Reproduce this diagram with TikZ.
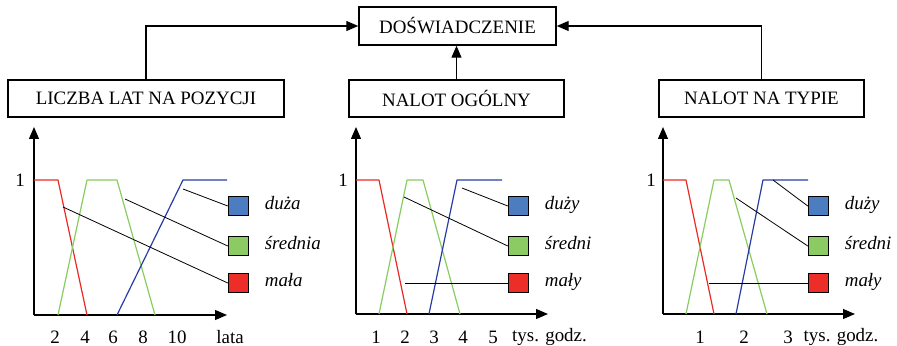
\documentclass[tikz,border=0pt]{standalone}
\usepackage{fontspec}
\setmainfont{Liberation Serif}
\usetikzlibrary{arrows.meta, positioning}

\definecolor{lineblue}{RGB}{40,60,165}
\definecolor{linered}{RGB}{235,40,35}
\definecolor{linegreen}{RGB}{135,205,95}
\definecolor{fillblue}{RGB}{75,125,192}
\definecolor{fillgreen}{RGB}{140,202,100}
\definecolor{fillred}{RGB}{236,45,40}

\tikzset{
  box/.style={draw, line width=1.1pt, inner sep=0pt, font=\fontsize{14.2}{16}\selectfont},
  link/.style={line width=0.9pt, -{Triangle[length=9pt, width=7.5pt]}},
  axis/.style={line width=0.9pt, -{Triangle[length=9pt, width=7.5pt]}},
  swatch/.style={draw, line width=1.1pt, minimum width=15pt, minimum height=14pt, inner sep=0pt},
  leader/.style={line width=0.6pt},
  ticklab/.style={inner sep=0pt, font=\fontsize{14.2}{16}\selectfont},
  setlab/.style={inner sep=0pt, text height=1.5ex, text depth=0.3ex, font=\fontsize{14.2}{16}\selectfont\itshape},
  mf/.style={line width=0.9pt, line join=round},
}

\begin{document}
\begin{tikzpicture}[x=0.75pt, y=-0.75pt]
\useasboundingbox (0,0) rectangle (897,346);

% Top level boxes
\node[box, minimum width=147.75pt, minimum height=28.5pt] (dosw) at (457.5,26) {DOŚWIADCZENIE};
\node[box, minimum width=207pt, minimum height=27.75pt] (lata) at (146,98.5) {LICZBA LAT NA POZYCJI};
\node[box, minimum width=161.25pt, minimum height=27.75pt] (ogolny) at (456.5,98.5) {NALOT OGÓLNY};
\node[box, minimum width=153.75pt, minimum height=27.75pt] (typ) at (761.5,98.5) {NALOT NA TYPIE};

\draw[link] (lata.north) |- (dosw.west);
\draw[link] (ogolny.north) -- (ogolny.north |- dosw.south);
\draw[link] (typ.north) |- (dosw.east);

% Chart 1: years on position
\coordinate (O1) at (34,315);
\coordinate (Y1) at (34,127);
\coordinate (X1) at (227,315);
\draw[axis] (O1) -- (Y1);
\draw[axis] (O1) -- (X1);
\node[ticklab] (one1) at (20,180) {1};
\draw[mf, linered] (34,180) -- (58,180) -- (87,315);
\draw[mf, linegreen] (58,315) -- (87,180) -- (117,180) -- (155,315);
\draw[mf, lineblue] (117,315) -- (183,180) -- (227,180);
\node[ticklab] (t1a) at (55,337) {2};
\node[ticklab] (t1b) at (85,337) {4};
\node[ticklab] (t1c) at (113,337) {6};
\node[ticklab] (t1d) at (143,337) {8};
\node[ticklab] (t1e) at (177,337) {10};
\node[ticklab] (t1u) at (230,337) {lata};
\node[swatch, fill=fillblue] (sq1b) at (238.5,206) {};
\node[swatch, fill=fillgreen] (sq1g) at (238.5,246) {};
\node[swatch, fill=fillred] (sq1r) at (238.5,283) {};
\node[setlab, right=11.5pt of sq1b] (lb1b) {duża};
\node[setlab, right=11.5pt of sq1g] (lb1g) {średnia};
\node[setlab, right=11.5pt of sq1r] (lb1r) {mała};
\coordinate (p1b) at (183,189);
\coordinate (p1g) at (125,199);
\coordinate (p1r) at (63,207);
\draw[leader] (p1b) -- (sq1b.west);
\draw[leader] (p1g) -- (sq1g.west);
\draw[leader] (p1r) -- (sq1r.west);

% Chart 2: total flight hours
\coordinate (O2) at (356,314);
\coordinate (Y2) at (356,127);
\coordinate (X2) at (548,314);
\draw[axis] (O2) -- (Y2);
\draw[axis] (O2) -- (X2);
\node[ticklab] (one2) at (343,180) {1};
\draw[mf, linered] (356,180) -- (379,180) -- (407,314);
\draw[mf, linegreen] (379,314) -- (407,180) -- (423,180) -- (460,314);
\draw[mf, lineblue] (429,314) -- (457,180) -- (502,180);
\node[ticklab] (t2a) at (376,337) {1};
\node[ticklab] (t2b) at (405,337) {2};
\node[ticklab] (t2c) at (434,337) {3};
\node[ticklab] (t2d) at (463,337) {4};
\node[ticklab] (t2e) at (493,337) {5};
\node[ticklab] (t2u) at (549.5,337) {tys. godz.};
\node[swatch, fill=fillblue] (sq2b) at (518.5,206) {};
\node[swatch, fill=fillgreen] (sq2g) at (518.5,246) {};
\node[swatch, fill=fillred] (sq2r) at (518.5,283) {};
\node[setlab, right=11.5pt of sq2b] (lb2b) {duży};
\node[setlab, right=11.5pt of sq2g] (lb2g) {średni};
\node[setlab, right=11.5pt of sq2r] (lb2r) {mały};
\coordinate (p2b) at (462,188);
\coordinate (p2g) at (404,197);
\coordinate (p2r) at (405,283);
\draw[leader] (p2b) -- (sq2b.west);
\draw[leader] (p2g) -- (sq2g.west);
\draw[leader] (p2r) -- (sq2r.west);

% Chart 3: flight hours on type
\coordinate (O3) at (663,314);
\coordinate (Y3) at (663,127);
\coordinate (X3) at (855,314);
\draw[axis] (O3) -- (Y3);
\draw[axis] (O3) -- (X3);
\node[ticklab] (one3) at (651,180) {1};
\draw[mf, linered] (663,180) -- (686,180) -- (714,314);
\draw[mf, linegreen] (686,314) -- (714,180) -- (729,180) -- (767,314);
\draw[mf, lineblue] (736,314) -- (763,180) -- (808,180);
\node[ticklab] (t3a) at (700,337) {1};
\node[ticklab] (t3b) at (744,337) {2};
\node[ticklab] (t3c) at (788,337) {3};
\node[ticklab] (t3u) at (841,337) {tys. godz.};
\node[swatch, fill=fillblue] (sq3b) at (818.5,206) {};
\node[swatch, fill=fillgreen] (sq3g) at (818.5,246) {};
\node[swatch, fill=fillred] (sq3r) at (818.5,283) {};
\node[setlab, right=11.5pt of sq3b] (lb3b) {duży};
\node[setlab, right=11.5pt of sq3g] (lb3g) {średni};
\node[setlab, right=11.5pt of sq3r] (lb3r) {mały};
\coordinate (p3b) at (773,180);
\coordinate (p3g) at (736,198);
\coordinate (p3r) at (709,283);
\draw[leader] (p3b) -- (sq3b.west);
\draw[leader] (p3g) -- (sq3g.west);
\draw[leader] (p3r) -- (sq3r.west);
\end{tikzpicture}
\end{document}
